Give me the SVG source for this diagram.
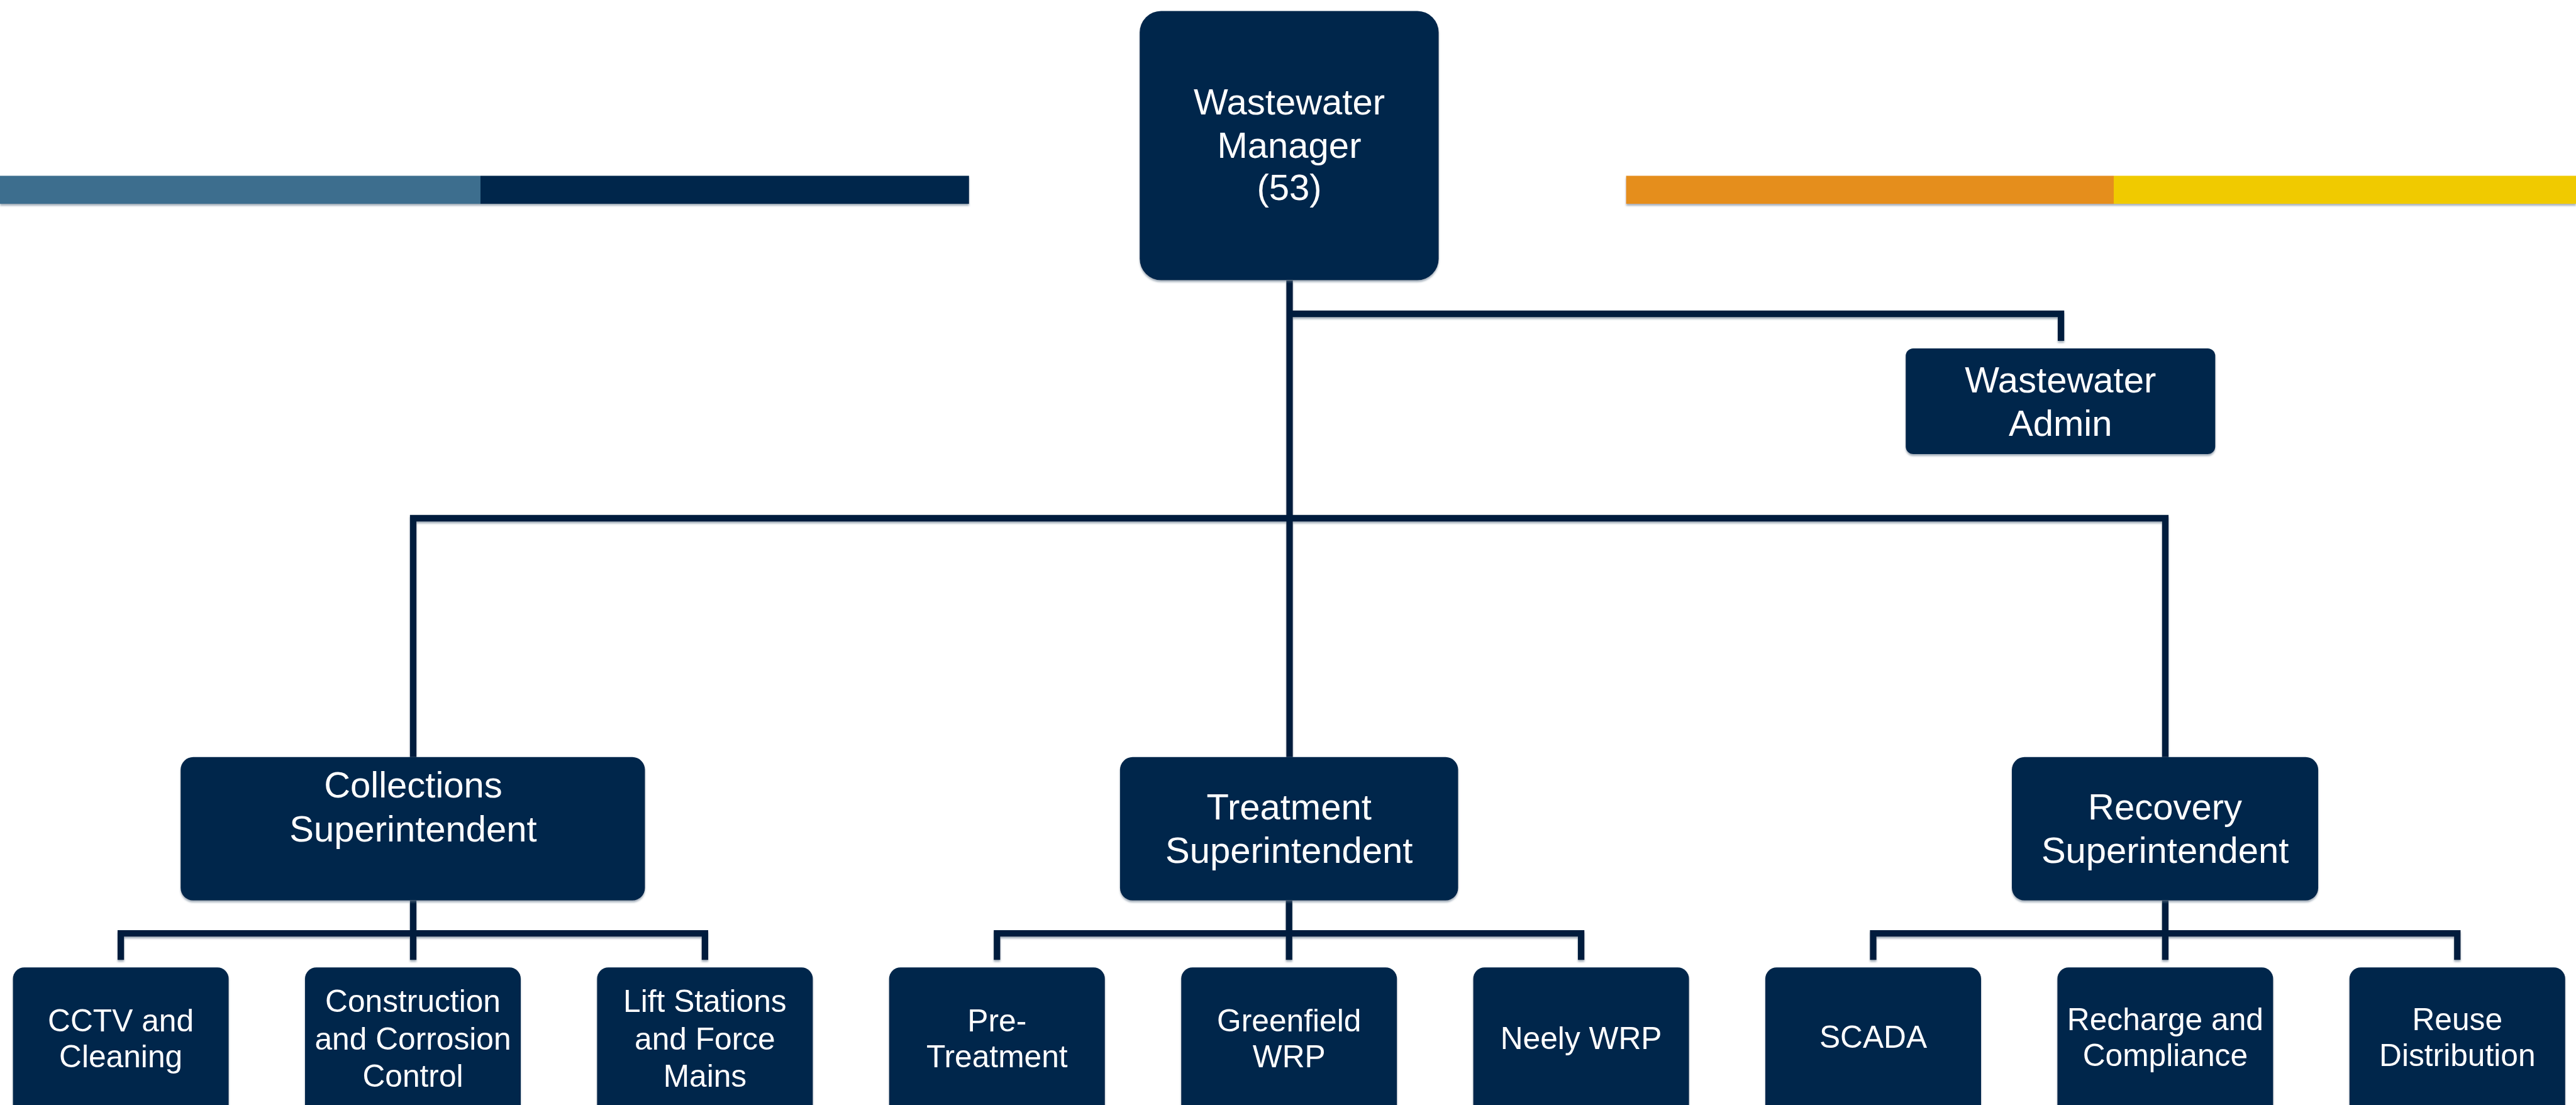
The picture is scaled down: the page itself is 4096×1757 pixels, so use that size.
<svg xmlns="http://www.w3.org/2000/svg" width="4096" height="1757" viewBox="0 0 4096 1757">
<defs>
<filter id="sh" filterUnits="userSpaceOnUse" x="0" y="0" width="4096" height="1800">
<feDropShadow dx="0" dy="3" stdDeviation="1.5" flood-color="#5d6f85" flood-opacity="0.55"/>
</filter>
</defs>
<style>
.box{fill:#03284B;filter:url(#sh)}
.t{font-family:"Liberation Sans",Arial,sans-serif;fill:#ffffff;text-anchor:middle}
.big{font-size:58px}
.small{font-size:49.7px}
.conn{fill:none;stroke:#011E3D;stroke-width:10.3;stroke-linecap:butt;stroke-linejoin:miter}
</style>
<rect x="0" y="0" width="4096" height="1757" fill="#ffffff"/>
<g id="bars" filter="url(#sh)">
<rect x="0" y="279.5" width="764" height="44.6" fill="#3E6E8E"/>
<rect x="764" y="279.5" width="776.8" height="44.6" fill="#03284B"/>
<rect x="2585.6" y="279.5" width="775.4" height="44.6" fill="#E58E1A"/>
<rect x="3361" y="279.5" width="735" height="44.6" fill="#F0CA00"/>
</g>
<g id="connectors" filter="url(#sh)">
<path class="conn" d="M2050.5 445.9 V1203.8"/>
<path class="conn" d="M2050.5 499 H3277.1 V541.9"/>
<path class="conn" d="M657 1203.8 V824 H3443 V1203.8"/>
<path class="conn" d="M657 1431.9 V1526.2 M192.1 1526.2 V1484.2 H1120.9 V1526.2"/>
<path class="conn" d="M2049.7 1431.9 V1526.2 M1585.3 1526.2 V1484.2 H2514.1 V1526.2"/>
<path class="conn" d="M3442.9 1431.9 V1526.2 M2978.5 1526.2 V1484.2 H3907.3 V1526.2"/>
</g>
<g id="manager">
<rect class="box" x="1812.2" y="17.5" width="475.4" height="428" rx="34"/>
<text class="t big" x="2050" y="182.2">Wastewater</text>
<text class="t big" x="2050" y="251.2">Manager</text>
<text class="t big" x="2050" y="318.1">(53)</text>
</g>
<g id="admin">
<rect class="box" x="3030.2" y="553.9" width="492.2" height="168" rx="12"/>
<text class="t big" x="3276.2" y="624.2">Wastewater</text>
<text class="t big" x="3276.2" y="692.8">Admin</text>
</g>
<g id="collections">
<rect class="box" x="287.2" y="1203.8" width="738.3" height="228" rx="20"/>
<text class="t big" x="657" y="1268.2">Collections</text>
<text class="t big" x="657" y="1337.6">Superintendent</text>
</g>
<g id="treatment">
<rect class="box" x="1780.9" y="1203.8" width="537.6" height="228" rx="20"/>
<text class="t big" x="2049.7" y="1303.3">Treatment</text>
<text class="t big" x="2049.7" y="1371.9">Superintendent</text>
</g>
<g id="recovery">
<rect class="box" x="3199" y="1203.8" width="487.1" height="228" rx="20"/>
<text class="t big" x="3442.6" y="1303.3">Recovery</text>
<text class="t big" x="3442.6" y="1371.9">Superintendent</text>
</g>
<g id="cctv">
<rect class="box" x="20.6" y="1538.2" width="343" height="260" rx="18"/>
<text class="t small" x="192.1" y="1639.5">CCTV and</text>
<text class="t small" x="192.1" y="1697">Cleaning</text>
</g>
<g id="construction">
<rect class="box" x="485" y="1538.2" width="343" height="260" rx="18"/>
<text class="t small" x="656.5" y="1609.4">Construction</text>
<text class="t small" x="656.5" y="1668.6">and Corrosion</text>
<text class="t small" x="656.5" y="1727.7">Control</text>
</g>
<g id="lift">
<rect class="box" x="949.4" y="1538.2" width="343" height="260" rx="18"/>
<text class="t small" x="1120.9" y="1609.4">Lift Stations</text>
<text class="t small" x="1120.9" y="1668.6">and Force</text>
<text class="t small" x="1120.9" y="1727.7">Mains</text>
</g>
<g id="pretreatment">
<rect class="box" x="1413.8" y="1538.2" width="343" height="260" rx="18"/>
<text class="t small" x="1585.3" y="1639.5">Pre-</text>
<text class="t small" x="1585.3" y="1697">Treatment</text>
</g>
<g id="greenfield">
<rect class="box" x="1878.2" y="1538.2" width="343" height="260" rx="18"/>
<text class="t small" x="2049.7" y="1639.5">Greenfield</text>
<text class="t small" x="2049.7" y="1697">WRP</text>
</g>
<g id="neely">
<rect class="box" x="2342.6" y="1538.2" width="343" height="260" rx="18"/>
<text class="t small" x="2514.1" y="1668">Neely WRP</text>
</g>
<g id="scada">
<rect class="box" x="2807" y="1538.2" width="343" height="260" rx="18"/>
<text class="t small" x="2978.5" y="1666">SCADA</text>
</g>
<g id="recharge">
<rect class="box" x="3271.4" y="1538.2" width="343" height="260" rx="18"/>
<text class="t small" x="3442.9" y="1638">Recharge and</text>
<text class="t small" x="3442.9" y="1695">Compliance</text>
</g>
<g id="reuse">
<rect class="box" x="3735.8" y="1538.2" width="343" height="260" rx="18"/>
<text class="t small" x="3907.3" y="1638">Reuse</text>
<text class="t small" x="3907.3" y="1695">Distribution</text>
</g>
</svg>
